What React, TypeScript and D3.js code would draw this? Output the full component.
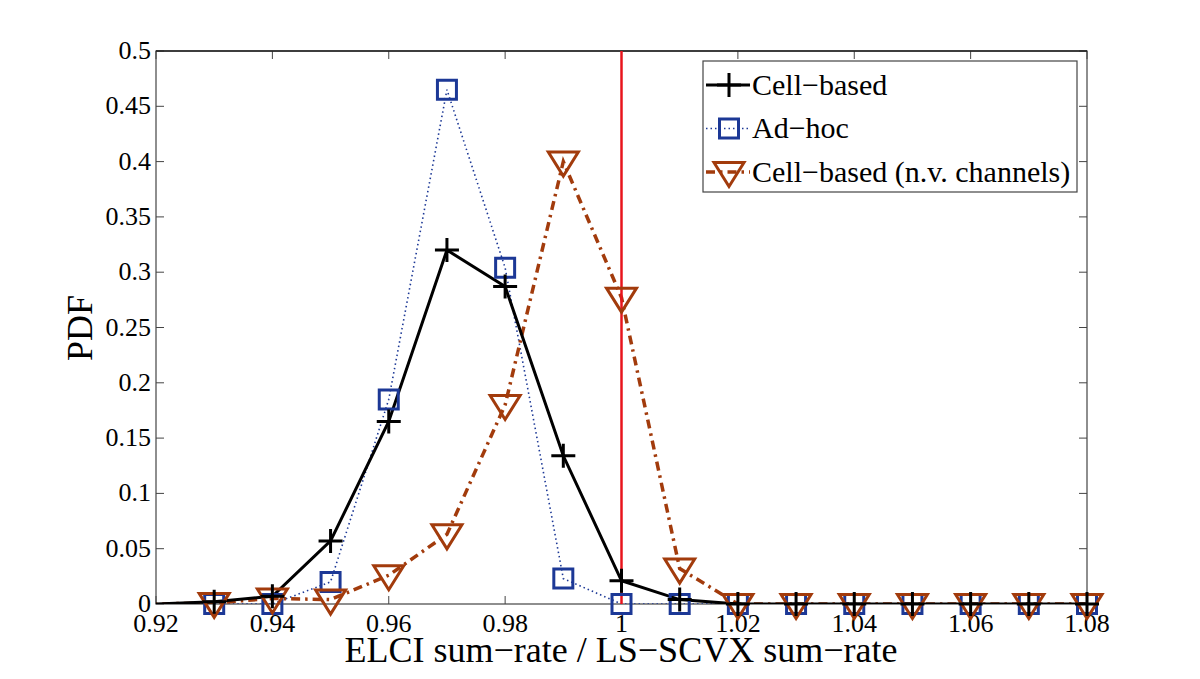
import React from "react";
import * as d3 from "d3";

const xValues = [0.91, 0.92, 0.93, 0.94, 0.95, 0.96, 0.97, 0.98, 0.99, 1.0, 1.01, 1.02, 1.03, 1.04, 1.05, 1.06, 1.07, 1.08];
const cellBased = [0, 0, 0.002, 0.007, 0.057, 0.165, 0.32, 0.287, 0.134, 0.021, 0.004, 0, 0, 0, 0, 0, 0, 0];
const adHoc = [0, 0, 0, 0, 0.02, 0.185, 0.465, 0.304, 0.023, 0, 0, 0, 0, 0, 0, 0, 0, 0];
const cellBasedNV = [0, 0, 0.001, 0.005, 0.004, 0.026, 0.063, 0.18, 0.4, 0.277, 0.032, 0, 0, 0, 0, 0, 0, 0];
const xTicks = [0.92, 0.94, 0.96, 0.98, 1.0, 1.02, 1.04, 1.06, 1.08];
const xTickLabels = ["0.92", "0.94", "0.96", "0.98", "1", "1.02", "1.04", "1.06", "1.08"];
const yTicks = [0, 0.05, 0.1, 0.15, 0.2, 0.25, 0.3, 0.35, 0.4, 0.45, 0.5];
const yTickLabels = ["0", "0.05", "0.1", "0.15", "0.2", "0.25", "0.3", "0.35", "0.4", "0.45", "0.5"];
const refLine = 1.0;
const seriesNames = ["Cell\u2212based", "Ad\u2212hoc", "Cell\u2212based (n.v. channels)"];
const xLabel = "ELCI sum\u2212rate / LS\u2212SCVX sum\u2212rate";
const yLabel = "PDF";

const W = 1200, H = 679;
const M = { left: 156, right: 1087, top: 51, bottom: 604 };
const BLUE = "#1c3896";
const ORANGE = "#a23b0c";
const FONT = "'Liberation Serif', 'DejaVu Serif', serif";

const x = d3.scaleLinear().domain([0.92, 1.08]).range([M.left, M.right]);
const y = d3.scaleLinear().domain([0, 0.5]).range([M.bottom, M.top]);

function crossPath(cx: number, cy: number, r = 12) {
  return `M${cx - r},${cy}H${cx + r}M${cx},${cy - r}V${cy + r}`;
}
function squarePath(cx: number, cy: number, r = 9.5) {
  return `M${cx - r},${cy - r}H${cx + r}V${cy + r}H${cx - r}Z`;
}
function triPath(cx: number, cy: number) {
  const hw = 15, up = 9.5, down = 14.5;
  return `M${cx - hw},${cy - up}H${cx + hw}L${cx},${cy + down}Z`;
}

export default function App() {
  const line = d3.line<number>().x((_, i) => x(xValues[i])).y((d) => y(d));
  const markerPts = (arr: number[]) =>
    arr.map((v, i) => [x(xValues[i]), y(v)] as [number, number]).filter((_, i) => xValues[i] >= 0.925);
  const tickLen = 8;
  const axisColor = "#444";
  const legendRows = [85, 128.5, 172];
  return (
    <svg width={W} height={H} style={{ display: "block", position: "absolute", left: 0, top: 0, background: "#fff" }} fontFamily={FONT}>
      <defs>
        <clipPath id="plotclip">
          <rect x={M.left} y={M.top - 20} width={M.right - M.left + 20} height={M.bottom - M.top + 40} />
        </clipPath>
        <clipPath id="lineclip">
          <rect x={M.left} y={M.top} width={M.right - M.left} height={M.bottom - M.top} />
        </clipPath>
      </defs>
      <rect x={0} y={0} width={W} height={H} fill="#fff" />
      {xTicks.map((t, i) => (
        <g key={"xt" + i}>
          <line x1={x(t)} x2={x(t)} y1={M.bottom} y2={M.bottom - tickLen} stroke={axisColor} strokeWidth={1} />
          <line x1={x(t)} x2={x(t)} y1={M.top} y2={M.top + tickLen} stroke={axisColor} strokeWidth={1} />
          <text x={x(t)} y={632} textAnchor="middle" fontSize={26} fill="#000">{xTickLabels[i]}</text>
        </g>
      ))}
      {yTicks.map((t, i) => (
        <g key={"yt" + i}>
          <line x1={M.left} x2={M.left + tickLen} y1={y(t)} y2={y(t)} stroke={axisColor} strokeWidth={1} />
          <line x1={M.right} x2={M.right - tickLen} y1={y(t)} y2={y(t)} stroke={axisColor} strokeWidth={1} />
          <text x={151} y={y(t) + 8} textAnchor="end" fontSize={26} fill="#000">{yTickLabels[i]}</text>
        </g>
      ))}
      <rect x={M.left} y={M.top} width={M.right - M.left} height={M.bottom - M.top} fill="none" stroke={axisColor} strokeWidth={1.2} />
      <line x1={M.left} x2={M.right} y1={M.top} y2={M.top} stroke="#222" strokeWidth={1.5} />

      <g clipPath="url(#lineclip)">
        <path d={line(adHoc) || ""} fill="none" stroke={BLUE} strokeWidth={1.6} strokeDasharray="1.5,3" />
        <path d={line(cellBasedNV) || ""} fill="none" stroke={ORANGE} strokeWidth={3.5} strokeDasharray="9,5,2.5,5" />
        <path d={line(cellBased) || ""} fill="none" stroke="#000" strokeWidth={3} />
      </g>
      <line x1={x(refLine)} x2={x(refLine)} y1={M.top} y2={M.bottom} stroke="#e8141c" strokeWidth={2.5} />
      <g clipPath="url(#plotclip)">
        {markerPts(adHoc).map(([px, py], i) => (
          <path key={"s" + i} d={squarePath(px, py)} fill="none" stroke={BLUE} strokeWidth={3} />
        ))}
        {markerPts(cellBasedNV).map(([px, py], i) => (
          <path key={"t" + i} d={triPath(px, py)} fill="none" stroke={ORANGE} strokeWidth={3} strokeLinejoin="miter" />
        ))}
        {markerPts(cellBased).map(([px, py], i) => (
          <path key={"c" + i} d={crossPath(px, py)} fill="none" stroke="#000" strokeWidth={3} />
        ))}
      </g>

      <g>
        <rect x={703} y={61} width={374} height={131} fill="#fff" stroke={axisColor} strokeWidth={1.2} />
        <line x1={706} x2={750} y1={legendRows[0]} y2={legendRows[0]} stroke="#000" strokeWidth={3} />
        <path d={crossPath(729, legendRows[0])} stroke="#000" strokeWidth={3} fill="none" />
        <line x1={706} x2={750} y1={legendRows[1]} y2={legendRows[1]} stroke={BLUE} strokeWidth={1.6} strokeDasharray="1.5,3" />
        <path d={squarePath(729, legendRows[1])} stroke={BLUE} strokeWidth={3} fill="none" />
        <line x1={706} x2={750} y1={legendRows[2]} y2={legendRows[2]} stroke={ORANGE} strokeWidth={3.5} strokeDasharray="9,5,2.5,5" />
        <path d={triPath(729, legendRows[2])} stroke={ORANGE} strokeWidth={3} fill="none" />
        {seriesNames.map((n, i) => (
          <text key={"lg" + i} x={752} y={legendRows[i] + 9.5} fontSize={30} fill="#000">{n}</text>
        ))}
      </g>

      <text x={621} y={662} textAnchor="middle" fontSize={36} fill="#000">{xLabel}</text>
      <text transform={`translate(92,328) rotate(-90)`} textAnchor="middle" fontSize={36} fill="#000">{yLabel}</text>
    </svg>
  );
}
